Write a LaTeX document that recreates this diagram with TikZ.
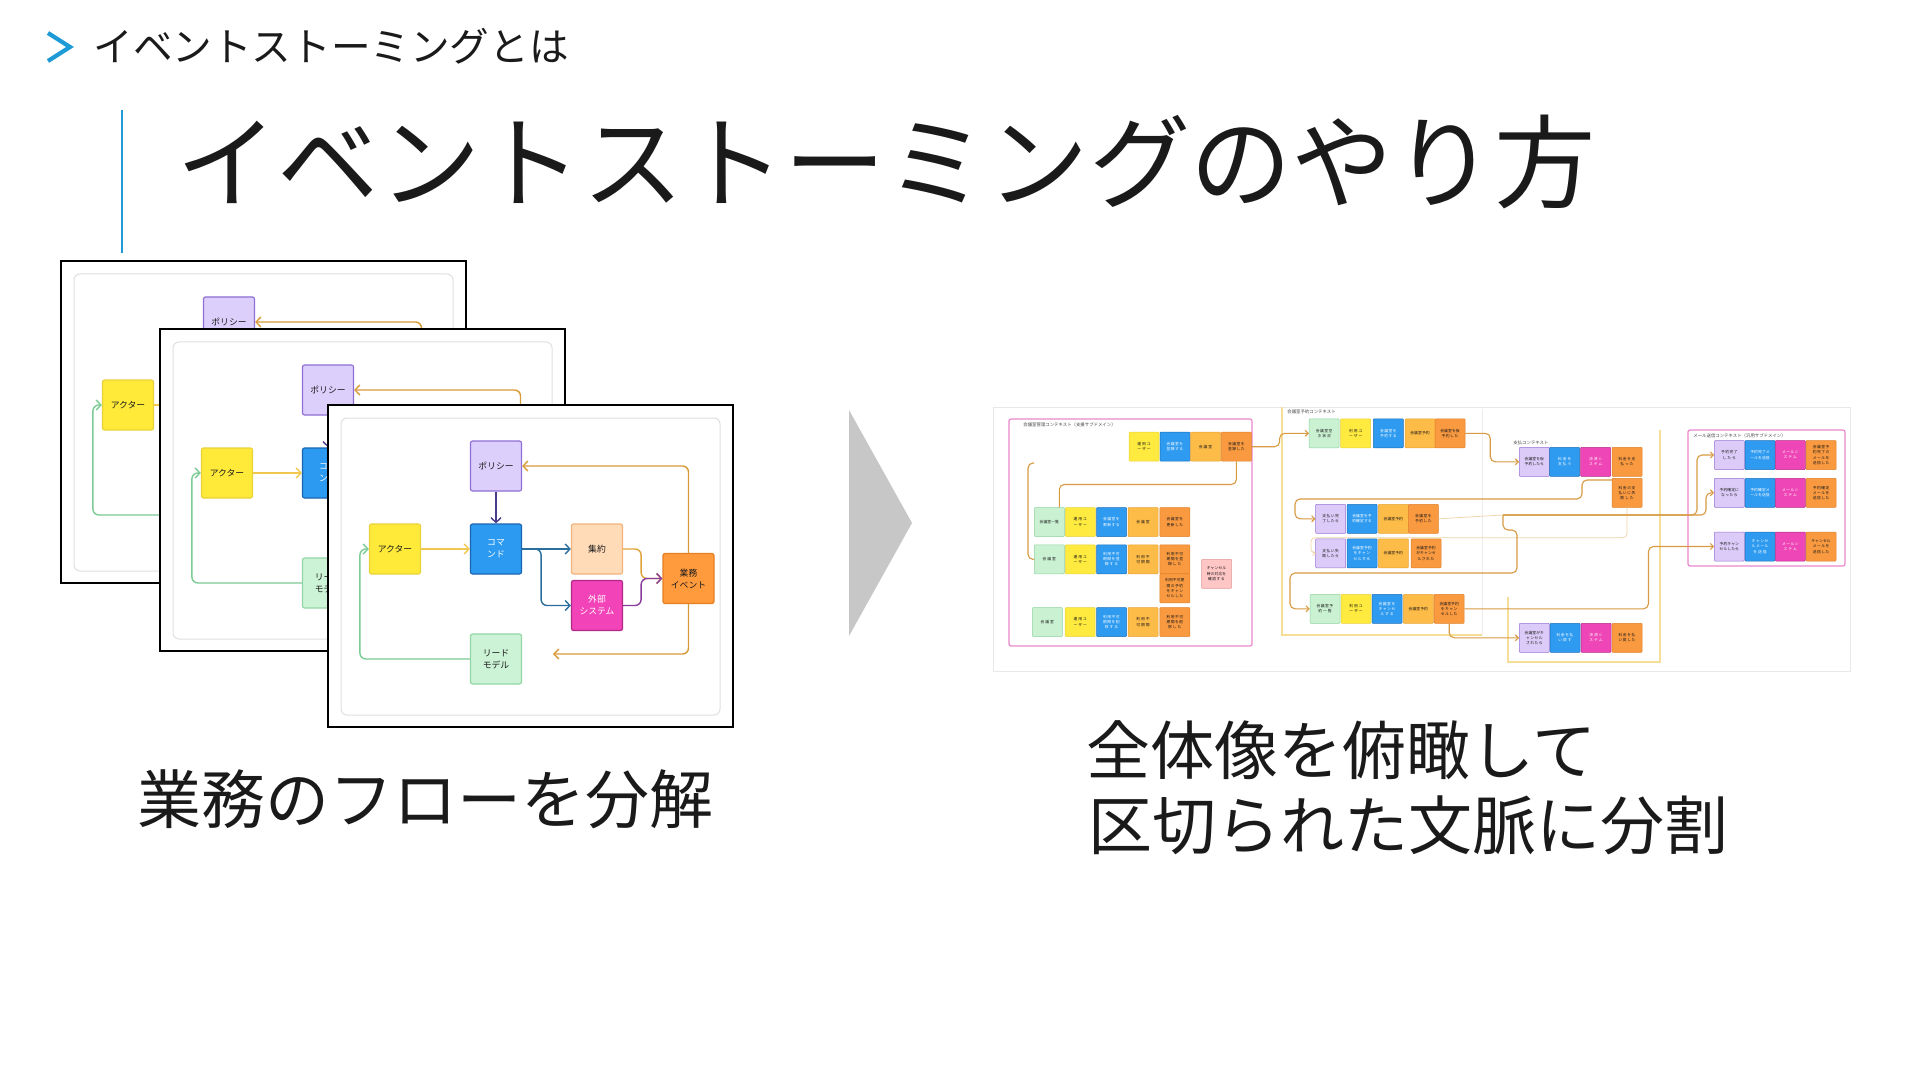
\documentclass[tikz,border=0pt]{standalone}
\usepackage{fontspec}
\setmainfont{Noto Sans CJK JP}
\XeTeXlinebreaklocale "ja"
\XeTeXlinebreakskip=0pt plus 1pt
\usetikzlibrary{arrows.meta}

\definecolor{accent}{HTML}{1E9BD7}
\definecolor{ink}{HTML}{1A1A1A}
\definecolor{polf}{HTML}{DCCFFB}\definecolor{pold}{HTML}{8E6FD6}
\definecolor{actf}{HTML}{FFEA3A}\definecolor{actd}{HTML}{EAD13A}
\definecolor{cmdf}{HTML}{2C9AF0}\definecolor{cmdd}{HTML}{1B66B0}
\definecolor{aggf}{HTML}{FFDBB8}\definecolor{aggd}{HTML}{F2B27C}
\definecolor{extf}{HTML}{F244B8}\definecolor{extd}{HTML}{B02888}
\definecolor{evtf}{HTML}{FF9B3D}\definecolor{evtd}{HTML}{E67E22}
\definecolor{rmf}{HTML}{CDF3D6}\definecolor{rmd}{HTML}{93D6A6}
\definecolor{cpol}{HTML}{4B3A8C}
\definecolor{cact}{HTML}{F0C850}
\definecolor{ccmd}{HTML}{2A6E9E}
\definecolor{cagg}{HTML}{E0A33A}
\definecolor{cext}{HTML}{8A3C9A}
\definecolor{cevt}{HTML}{D99A3A}
\definecolor{crm}{HTML}{7CCB94}
\definecolor{sgreenf}{HTML}{C9F1D2}\definecolor{sgreend}{HTML}{8FD3A2}
\definecolor{syelf}{HTML}{FFEA3F}\definecolor{syeld}{HTML}{E9D23C}
\definecolor{sbluef}{HTML}{2E9BF1}\definecolor{sblued}{HTML}{1F6FB8}
\definecolor{slorf}{HTML}{FDBB47}\definecolor{slord}{HTML}{E9A43A}
\definecolor{sorf}{HTML}{FA9A40}\definecolor{sord}{HTML}{E07F28}
\definecolor{slavf}{HTML}{DCCBF8}\definecolor{slavd}{HTML}{9874D4}
\definecolor{smagf}{HTML}{EE46B6}\definecolor{smagd}{HTML}{B52C88}
\definecolor{spinkf}{HTML}{FFC6C6}\definecolor{spinkd}{HTML}{E19A9A}
\definecolor{ctxpink}{HTML}{EA86CC}
\definecolor{ctxyel}{HTML}{F6DE96}
\definecolor{rline}{HTML}{D89A42}
\definecolor{rfaint}{HTML}{EFD3A8}

\tikzset{
  frame/.style={draw=black,line width=1pt,fill=white},
  innerbox/.style={draw=black!12,line width=0.5pt,rounded corners=3pt},
  lbox/.style={minimum width=25.5pt,minimum height=25pt,rounded corners=1pt,
    line width=0.6pt,inner sep=0pt,align=center,text=ink,
    font=\fontsize{4.4}{6}\selectfont},
  arr/.style={-{Straight Barb[length=2.4pt,width=5pt]},line width=0.7pt,rounded corners=3pt},
  stk/.style={minimum width=15pt,minimum height=14.5pt,inner sep=0.5pt,text width=10pt,
    align=center,rounded corners=0.4pt,line width=0.25pt,text=ink,
    font=\fontsize{1.9}{2.6}\selectfont},
  sg/.style={stk,fill=sgreenf,draw=sgreend},
  sy/.style={stk,fill=syelf,draw=syeld},
  sb/.style={stk,fill=sbluef,draw=sblued,text=white},
  sl/.style={stk,fill=slorf,draw=slord},
  so/.style={stk,fill=sorf,draw=sord},
  sv/.style={stk,fill=slavf,draw=slavd},
  sm/.style={stk,fill=smagf,draw=smagd,text=white},
  sp/.style={stk,fill=spinkf,draw=spinkd},
  ctxlabel/.style={anchor=west,inner sep=0pt,text=ink!80,font=\fontsize{2.2}{2.6}\selectfont},
  rc/.style={draw=rline,line width=0.55pt,rounded corners=2.5pt},
  rca/.style={rc,-{Straight Barb[length=1.5pt,width=3pt]}},
  rfa/.style={draw=rfaint,line width=0.35pt,rounded corners=2pt,-{Straight Barb[length=1.2pt,width=2.4pt]}}
}

\newcommand\flowdiag[3]{%
\begin{scope}[shift={(#2,#3)}]
  \draw[frame] (328,405) rectangle (733,727);
  \draw[innerbox] (341,418) rectangle (720,715);
  \node[lbox,fill=polf,draw=pold] (#1pol) at (496,466) {ポリシー};
  \node[lbox,fill=actf,draw=actd] (#1act) at (395,549) {アクター};
  \node[lbox,fill=cmdf,draw=cmdd,text=white] (#1cmd) at (496,549) {コマ\\ンド};
  \node[lbox,fill=aggf,draw=aggd] (#1agg) at (597,549) {集約};
  \node[lbox,fill=extf,draw=extd,text=white] (#1ext) at (597,605.5) {外部\\システム};
  \node[lbox,fill=evtf,draw=evtd] (#1evt) at (688.5,578.5) {業務\\イベント};
  \node[lbox,fill=rmf,draw=rmd] (#1rm) at (496,659) {リード\\モデル};
  \coordinate (#1rmend) at (553,654);
  \draw[arr,draw=cpol] (#1pol.south) -- (#1cmd.north);
  \draw[arr,draw=cact] (#1act.east) -- (#1cmd.west);
  \draw[arr,draw=ccmd] (#1cmd.east) -- (#1agg.west);
  \draw[arr,draw=ccmd] (#1cmd.east) -- ++(19,0) |- (#1ext.west);
  \draw[arr,draw=cagg] (#1agg.east) -- ++(18,0) |- (#1evt.west);
  \draw[arr,draw=cext] (#1ext.east) -- ++(18,0) |- (#1evt.west);
  \draw[arr,draw=cevt] (#1evt.north) |- (#1pol.east);
  \draw[arr,draw=cevt] (#1evt.south) |- (#1rmend);
  \draw[arr,draw=crm] (#1rm.west) -- ++(-110,0) |- (#1act.west);
\end{scope}}

\begin{document}
\begin{tikzpicture}[x=0.5pt,y=-0.5pt]
\useasboundingbox (0,0) rectangle (1920,1080);
\fill[white] (0,0) rectangle (1920,1080);

% header
\draw[accent,line width=2.1pt,line join=miter] (48,33) -- (70,47) -- (48,61);
\node[anchor=west,inner sep=0pt,text=ink,font=\fontsize{19.8}{24}\selectfont] (hdr) at (93,46.5) {イベントストーミングとは};
\draw[accent,line width=1.3pt] (122,110) -- (122,253);
\node[anchor=west,inner sep=0pt,text=ink,font=\fontsize{50.7}{60}\selectfont] (title) at (176,162) {イベントストーミングのやり方};

% left: stacked flow diagrams
\flowdiag{a}{-267}{-144}
\flowdiag{b}{-168}{-76}
\flowdiag{c}{0}{0}

\node[inner sep=0pt,text=ink,font=\fontsize{32}{38}\selectfont] (cap1) at (425,799) {業務のフローを分解};

% chevron
\fill[black!22] (849,410) -- (912,523) -- (849,636) -- cycle;

% right: overview screenshot
\draw[draw=black!9,line width=0.5pt,fill=white] (993,407) rectangle (1850,671);

% context boxes
\draw[draw=ctxpink,line width=0.6pt,rounded corners=1pt] (1009,419) rectangle (1252,646);
\draw[draw=black!7,line width=0.4pt] (1482,409) -- (1482,635);
\draw[draw=ctxyel,line width=0.7pt] (1282,407) -- (1282,635) -- (1482,635);
\draw[draw=ctxyel,line width=0.7pt] (1508,597) -- (1508,662) -- (1660,662) -- (1660,430);
\draw[draw=ctxpink,line width=0.6pt,rounded corners=1pt] (1688,430) rectangle (1845,566);
\node[ctxlabel] (l1) at (1023,425) {会議室管理コンテキスト（支援サブドメイン）};
\node[ctxlabel] (l2) at (1287,412) {会議室予約コンテキスト};
\node[ctxlabel] (l3) at (1513,443) {支払コンテキスト};
\node[ctxlabel] (l4) at (1693,436) {メール送信コンテキスト（汎用サブドメイン）};

% context 1
\node[sy] (k1a0) at (1144,446.7) {運用ユーザー};
\node[sb] (k1b0) at (1175,446.7) {会議室を登録する};
\node[sl] (k1c0) at (1205.5,446.7) {会議室};
\node[so] (k1d0) at (1236.4,446.7) {会議室を登録した};

\node[sg] (k1a2) at (1049.3,522) {会議室一覧};
\node[sy] (k1b2) at (1080.3,522) {運用ユーザー};
\node[sb] (k1c2) at (1111.5,522) {会議室を更新する};
\node[sl] (k1d2) at (1143,522) {会議室};
\node[so] (k1e2) at (1174.8,522) {会議室を更新した};

\node[sg] (k1a3) at (1049.3,559.3) {会議室};
\node[sy] (k1b3) at (1080.3,559.3) {運用ユーザー};
\node[sb] (k1c3) at (1111.5,559.3) {利用不可期間を登録する};
\node[sl] (k1d3) at (1143,559.3) {利用不可期間};
\node[so] (k1e3) at (1174.8,559.3) {利用不可期間を登録した};
\node[so] (k1f3) at (1174.8,588.3) {利用不可期間の予約をキャンセルした};
\node[sp] (k1p) at (1216.5,573.8) {キャンセル時の対応を確認する};

\node[sg] (k1a4) at (1047.3,622) {会議室};
\node[sy] (k1b4) at (1080.2,622) {運用ユーザー};
\node[sb] (k1c4) at (1111.5,622) {利用不可期間を削除する};
\node[sl] (k1d4) at (1143,622) {利用不可期間};
\node[so] (k1e4) at (1174.8,622) {利用不可期間を削除した};

% context 2
\node[sg] (k2a1) at (1324.2,433.3) {会議室空き状況};
\node[sy] (k2b1) at (1355.7,433.3) {利用ユーザー};
\node[sb] (k2c1) at (1388.3,433.3) {会議室を予約する};
\node[sl] (k2d1) at (1420,433.3) {会議室予約};
\node[so] (k2e1) at (1450,433.3) {会議室を仮予約した};

\node[sv] (k2a2) at (1330.7,518.8) {支払い完了したら};
\node[sb] (k2b2) at (1362,518.8) {会議室を予約確定する};
\node[sl] (k2c2) at (1393.3,518.8) {会議室予約};
\node[so] (k2d2) at (1423.3,518.8) {会議室を予約した};

\node[sv] (k2a3) at (1330.7,553.3) {支払い失敗したら};
\node[sb] (k2b3) at (1362,553.3) {会議室予約をキャンセルする};
\node[sl] (k2c3) at (1393.3,553.3) {会議室予約};
\node[so] (k2d3) at (1426,553.3) {会議室予約がキャンセルされた};

\node[sg] (k2a4) at (1325,608.8) {会議室予約一覧};
\node[sy] (k2b4) at (1356,608.8) {利用ユーザー};
\node[sb] (k2c4) at (1387,608.8) {会議室をキャンセルする};
\node[sl] (k2d4) at (1418.3,608.8) {会議室予約};
\node[so] (k2e4) at (1449.2,608.8) {会議室予約をキャンセルした};

% payment context
\node[sv] (k3a1) at (1534.3,461.8) {会議室を仮予約したら};
\node[sb] (k3b1) at (1564.7,461.8) {料金を支払う};
\node[sm] (k3c1) at (1595.7,461.8) {決済システム};
\node[so] (k3d1) at (1627,461.8) {料金を支払った};
\node[so] (k3d1b) at (1627,492.8) {料金の支払いに失敗した};

\node[sv] (k3a2) at (1534.3,637.8) {会議室がキャンセルされたら};
\node[sb] (k3b2) at (1565,637.8) {料金を払い戻す};
\node[sm] (k3c2) at (1596,637.8) {決済システム};
\node[so] (k3d2) at (1627,637.8) {料金を払い戻した};

% mail context
\node[sv] (k4aa) at (1729.3,455) {予約完了したら};
\node[sb] (k4ba) at (1760,455) {予約完了メールを送信};
\node[sm] (k4ca) at (1790.3,455) {メールシステム};
\node[so] (k4da) at (1821,455) {会議室予約完了のメールを送信した};

\node[sv] (k4ab) at (1729.3,492.8) {予約確定になったら};
\node[sb] (k4bb) at (1760,492.8) {予約確定メールを送信};
\node[sm] (k4cb) at (1790.3,492.8) {メールシステム};
\node[so] (k4db) at (1821,492.8) {予約確定メールを送信した};

\node[sv] (k4ac) at (1729.3,546.5) {予約キャンセルしたら};
\node[sb] (k4bc) at (1760,546.5) {キャンセルメールを送信};
\node[sm] (k4cc) at (1790.3,546.5) {メールシステム};
\node[so] (k4dc) at (1821,546.5) {キャンセルメールを送信した};

% right connectors
\coordinate (c3s) at (1034,463);
\coordinate (jn) at (1503,515);
\draw[rca] (k1d0.east) -- ++(28,0) |- (k2a1.west);
\draw[rc] (k1d0.south) -- ++(0,23) -| ([xshift=5pt]k1a2.north);
\draw[rc] (c3s) -- (1028,463) |- (k1a3.west);
\draw[rca] (k2e1.east) -- ++(25,0) |- (k3a1.west);
\draw[rca] ([yshift=6.4pt]k3d1b.west) -- (1582,480) -- (1582,499) -- (1295,499) |- (k2a2.west);
\draw[rfa] (k3d1b.south) |- (1311,537.7) |- (k2a3.west);
\draw[draw=rfaint,line width=0.35pt] (k2d2.east) -- (jn);
\draw[rca] (jn) -- (1697,515) |- (k4aa.west);
\draw[rca] (jn) -- (1706,515) |- (k4ab.west);
\draw[rca] (jn) |- (1517,530) -- (1517,573) -- (1290,573) |- (k2a4.west);
\draw[rca] (k2e4.east) -- ++(184,0) |- (k4ac.west);
\draw[rca] (k2e4.south) |- (k3a2.west);

% captions right
\node[anchor=west,inner sep=0pt,text=ink,font=\fontsize{32}{38}\selectfont] (cap2) at (1086,750) {全体像を俯瞰して};
\node[anchor=west,inner sep=0pt,text=ink,font=\fontsize{32}{38}\selectfont] (cap3) at (1088,825) {区切られた文脈に分割};
\end{tikzpicture}
\end{document}
